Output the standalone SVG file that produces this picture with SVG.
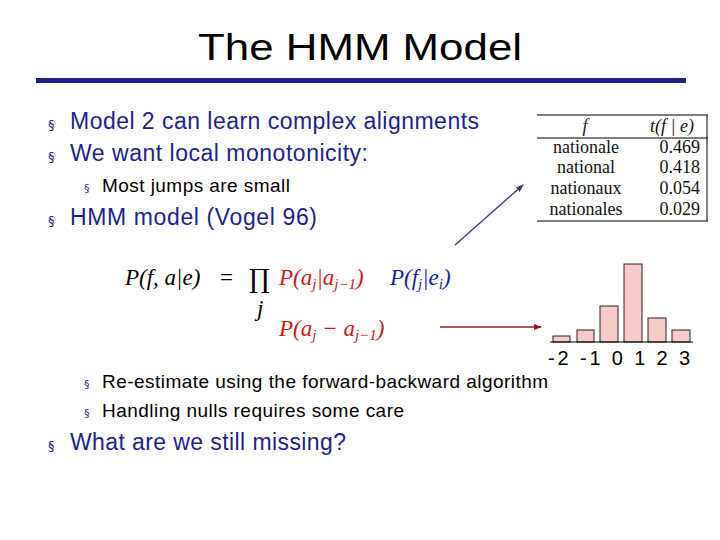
<svg xmlns="http://www.w3.org/2000/svg" width="720" height="540" viewBox="0 0 720 540">
<style>
.s{font-family:"Liberation Sans",Arial,sans-serif;fill:#1f1f8c;font-size:23px}
.k{font-family:"Liberation Sans",Arial,sans-serif;fill:#000;font-size:19px}
.b{fill:#1f1f8c;font-family:"DejaVu Sans",sans-serif}
.m{font-family:"Liberation Serif","Times New Roman",serif;font-style:italic;font-size:23px}
.t{font-family:"Liberation Serif","Times New Roman",serif;font-size:18px;fill:#111}
.bar{fill:#f9caca;stroke:#222;stroke-width:1}
</style>
<defs>
<marker id="ar" markerWidth="8" markerHeight="8" refX="7" refY="4" orient="auto" markerUnits="userSpaceOnUse"><path d="M0,1 L8,4 L0,7Z" fill="#9b1c1c"/></marker>
<marker id="ab" markerWidth="8" markerHeight="8" refX="7" refY="4" orient="auto" markerUnits="userSpaceOnUse"><path d="M0,1 L8,4 L0,7Z" fill="#3a3a6e"/></marker>
</defs>
<rect width="720" height="540" fill="#fff"/>
<g id="title">
<text x="360" y="60" text-anchor="middle" font-family="Liberation Sans,Arial,sans-serif" font-size="37" fill="#000" textLength="324" lengthAdjust="spacingAndGlyphs">The HMM Model</text>
<rect x="36" y="78" width="650" height="5" fill="#1f1f8c"/>
</g>
<g id="bullets">
<text x="48" y="129" class="b" font-size="13">§</text><text x="70" y="129" class="s" textLength="409">Model 2 can learn complex alignments</text>
<text x="48" y="161" class="b" font-size="13">§</text><text x="70" y="161" class="s" textLength="298">We want local monotonicity:</text>
<text x="84" y="192" class="b" font-size="11">§</text><text x="102" y="192" class="k" font-size="18" textLength="188">Most jumps are small</text>
<text x="48" y="225" class="b" font-size="13">§</text><text x="70" y="225" class="s" textLength="247">HMM model (Vogel 96)</text>
<text x="84" y="388" class="b" font-size="11">§</text><text x="102" y="388" class="k" textLength="446">Re-estimate using the forward-backward algorithm</text>
<text x="84" y="417" class="b" font-size="11">§</text><text x="102" y="417" class="k" textLength="302">Handling nulls requires some care</text>
<text x="48" y="450" class="b" font-size="13">§</text><text x="70" y="450" class="s" textLength="276">What are we still missing?</text>
</g>
<g id="formula">
<text x="125" y="285" class="m" fill="#000">P(f, a|e)</text>
<text x="220" y="285" font-family="Liberation Serif,serif" font-size="23" fill="#000">=</text>
<text x="249" y="288" font-family="DejaVu Serif,serif" font-size="26" fill="#000">∏</text>
<text x="257" y="316" class="m" font-size="15" fill="#000">j</text>
<text x="279" y="285" class="m" fill="#d01818">P(a<tspan font-size="15" dy="4">j</tspan><tspan dy="-4">|a</tspan><tspan font-size="15" dy="4">j−1</tspan><tspan dy="-4">)</tspan></text>
<text x="390" y="285" class="m" fill="#1a1ab0">P(f<tspan font-size="15" dy="4">j</tspan><tspan dy="-4">|e</tspan><tspan font-size="15" dy="4">i</tspan><tspan dy="-4">)</tspan></text>
<text x="279" y="336" class="m" fill="#d01818">P(a<tspan font-size="15" dy="4">j</tspan><tspan dy="-4"> − a</tspan><tspan font-size="15" dy="4">j−1</tspan><tspan dy="-4">)</tspan></text>
</g>
<g id="table">
<line x1="537" y1="115" x2="708" y2="115" stroke="#000"/>
<line x1="537" y1="138" x2="708" y2="138" stroke="#000"/>
<line x1="537" y1="221" x2="708" y2="221" stroke="#000"/>
<line x1="707" y1="115" x2="707" y2="221" stroke="#000"/>
<text x="585" y="132" class="t" text-anchor="middle" font-style="italic">f</text>
<text x="672" y="132" class="t" text-anchor="middle" font-style="italic">t(f | e)</text>
<text x="586" y="153" class="t" text-anchor="middle">nationale</text><text x="700" y="153" class="t" text-anchor="end">0.469</text>
<text x="586" y="173" class="t" text-anchor="middle">national</text><text x="700" y="173" class="t" text-anchor="end">0.418</text>
<text x="586" y="194" class="t" text-anchor="middle">nationaux</text><text x="700" y="194" class="t" text-anchor="end">0.054</text>
<text x="586" y="215" class="t" text-anchor="middle">nationales</text><text x="700" y="215" class="t" text-anchor="end">0.029</text>
</g>
<g id="histogram">
<rect class="bar" x="553" y="336" width="17" height="6"/>
<rect class="bar" x="577" y="330" width="17" height="12"/>
<rect class="bar" x="600" y="306" width="18" height="36"/>
<rect class="bar" x="624" y="264" width="18" height="78"/>
<rect class="bar" x="648" y="318" width="18" height="24"/>
<rect class="bar" x="672" y="330" width="18" height="12"/>
<line x1="550" y1="342" x2="693" y2="342" stroke="#000"/>
<text x="548" y="365" font-family="Liberation Sans,Arial,sans-serif" font-size="20" fill="#000" textLength="142">-2 -1 0 1 2 3</text>
</g>
<g id="connectors">
<line x1="455" y1="245" x2="523" y2="185" stroke="#3a3a6e" stroke-width="1.3" marker-end="url(#ab)"/>
<line x1="440" y1="327" x2="541" y2="327" stroke="#9b1c1c" stroke-width="1.5" marker-end="url(#ar)"/>
</g>
</svg>
